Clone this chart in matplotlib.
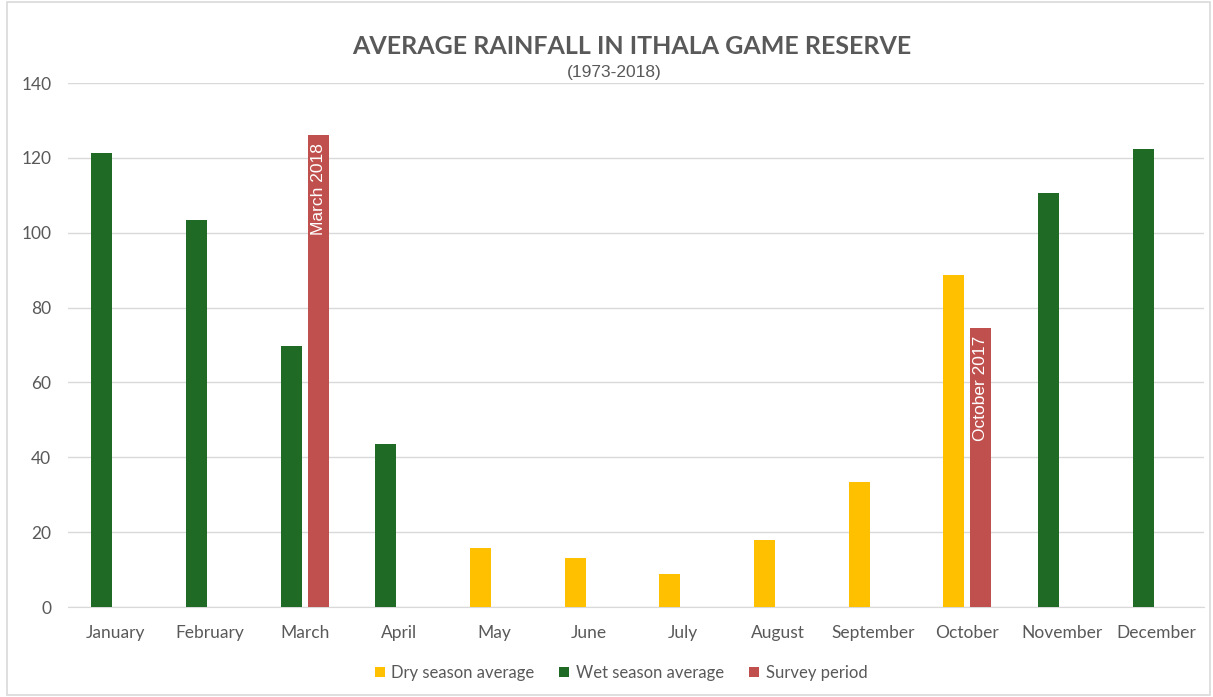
import numpy as np
from matplotlib import pyplot as plt
from matplotlib.patches import Rectangle

# monthly rainfall (mm), Ithala Game Reserve
months = ['January', 'February', 'March', 'April', 'May', 'June',
          'July', 'August', 'September', 'October', 'November', 'December']
dry = [np.nan, np.nan, np.nan, np.nan, 15.8, 13.1, 8.8, 17.9, 33.4, 88.6, np.nan, np.nan]
wet = [121.4, 103.4, 69.8, 43.6, np.nan, np.nan, np.nan, np.nan, np.nan, np.nan, 110.6, 122.3]
survey = [np.nan, np.nan, 126.0, np.nan, np.nan, np.nan, np.nan, np.nan, np.nan, 74.5, np.nan, np.nan]
survey_labels = ['', '', 'March 2018', '', '', '', '', '', '', 'October 2017', '', '']
yticks = [0, 20, 40, 60, 80, 100, 120, 140]

c_dry = '#FFC000'
c_wet = '#1F6B25'
c_survey = '#C0504D'
grey = '#595959'
grid = '#D9D9D9'

fig = plt.figure(figsize=(12.13, 6.97), dpi=100)
ax = fig.add_axes([68/1213, 1-607/697, (1204-68)/1213, (607-83)/697])

x = np.arange(len(months))
w = 0.22
off = 0.142
ax.bar(x - off, dry, w, color=c_dry, label='Dry season average', zorder=3)
ax.bar(x - off, wet, w, color=c_wet, label='Wet season average', zorder=3)
bars = ax.bar(x + off, survey, w, color=c_survey, label='Survey period', zorder=3)

# labels written inside the survey bars
for rect, txt in zip(bars, survey_labels):
  if not txt:
    continue
  ax.text(rect.get_x() + rect.get_width()/2, rect.get_height() - 2.0, txt,
          rotation=90, ha='center', va='top', color='white',
          fontsize=12.5, family='Liberation Sans', zorder=4)

ax.set_xlim(-0.5, len(months) - 0.5)
ax.set_ylim(0, 140)
ax.set_yticks(yticks)
ax.set_xticks(x)
ax.set_xticklabels(months)
ax.yaxis.grid(True, color=grid, lw=1, zorder=0)
ax.tick_params(length=0, colors=grey, labelsize=12.5)
ax.tick_params(axis='y', pad=12)
ax.tick_params(axis='x', pad=13)
for lab in ax.get_xticklabels() + ax.get_yticklabels():
  lab.set_family('Lato')
for s in ['top', 'right', 'left']:
  ax.spines[s].set_visible(False)
ax.spines['bottom'].set_color(grid)

fig.text(632/1213, 1-47/697, 'AVERAGE RAINFALL IN ITHALA GAME RESERVE',
         ha='center', va='center', fontsize=18, fontweight='bold',
         color=grey, family='Lato')
fig.text(614/1213, 1-72/697, '(1973-2018)', ha='center', va='center',
         fontsize=12.5, color=grey, family='Liberation Sans')

leg = fig.legend(loc='center', bbox_to_anchor=(621/1213, 1-673/697), ncol=3,
                 frameon=False, handlelength=0.6, handleheight=0.6,
                 handletextpad=0.4, columnspacing=1.5,
                 prop={'family': 'Lato', 'size': 12})
for t in leg.get_texts():
  t.set_color(grey)

# light frame around the chart
fig.patches.append(Rectangle((7/1213, 2/697), 1203/1213, 693/697,
                             transform=fig.transFigure, fill=False,
                             edgecolor=grid, lw=1.2))

fig.savefig('out.png', dpi=100)
